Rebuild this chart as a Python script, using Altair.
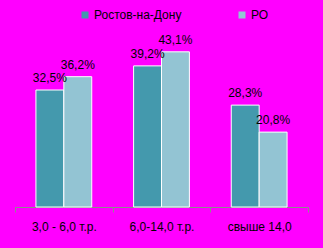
import altair as alt
import pandas as pd

categories = ["3,0 - 6,0 т.р.", "6,0-14,0 т.р.", "свыше 14,0"]
series_names = ["Ростов-на-Дону", "РО"]
rostov = [32.5, 39.2, 28.3]
ro = [36.2, 43.1, 20.8]
colors = ["#4499AD", "#93C4D3"]

rows = []
for c, a, b in zip(categories, rostov, ro):
    rows.append({"cat": c, "series": series_names[0], "value": a})
    rows.append({"cat": c, "series": series_names[1], "value": b})
df = pd.DataFrame(rows)
df["label"] = df["value"].map(lambda v: f"{v:.1f}".replace(".", ",") + "%")

FONT = "Liberation Sans"

x = alt.X("cat:N", sort=categories,
          scale=alt.Scale(paddingInner=0, paddingOuter=0),
          axis=alt.Axis(title=None, labelAngle=0, domainColor="#8c8c8c",
                        tickColor="#8c8c8c", tickBand="extent", tickSize=5,
                        labelPadding=9, labelFont=FONT, labelFontSize=12,
                        labelColor="#000000", grid=False))
xo = alt.XOffset("series:N", sort=series_names,
                 scale=alt.Scale(paddingOuter=0.75, paddingInner=0))
y = alt.Y("value:Q", scale=alt.Scale(domain=[0, 50]), axis=None)

bars = alt.Chart(df).mark_bar(stroke="white", strokeWidth=1).encode(
    x=x, xOffset=xo, y=y,
    color=alt.Color("series:N", sort=series_names,
                    scale=alt.Scale(domain=series_names, range=colors),
                    legend=alt.Legend(title=None, orient="none",
                                      direction="horizontal",
                                      legendX=64, legendY=-18,
                                      symbolType="square", symbolSize=49,
                                      symbolStrokeWidth=0,
                                      labelFont=FONT, labelFontSize=12,
                                      labelColor="#000000", labelOffset=3,
                                      columnPadding=54)),
)

labels = alt.Chart(df).mark_text(font=FONT, fontSize=12, color="#000000",
                                 baseline="alphabetic", dy=-8).encode(
    x=x, xOffset=xo, y=y, text="label:N"
)

chart = (bars + labels).properties(
    width=293, height=180,
    background="#FF00FF",
    padding={"left": 15, "top": 27, "right": 15, "bottom": 41},
    autosize=alt.AutoSizeParams(type="none"),
).configure_view(stroke=None)

chart.save("out.html", embed_options={"renderer": "svg", "actions": False})
